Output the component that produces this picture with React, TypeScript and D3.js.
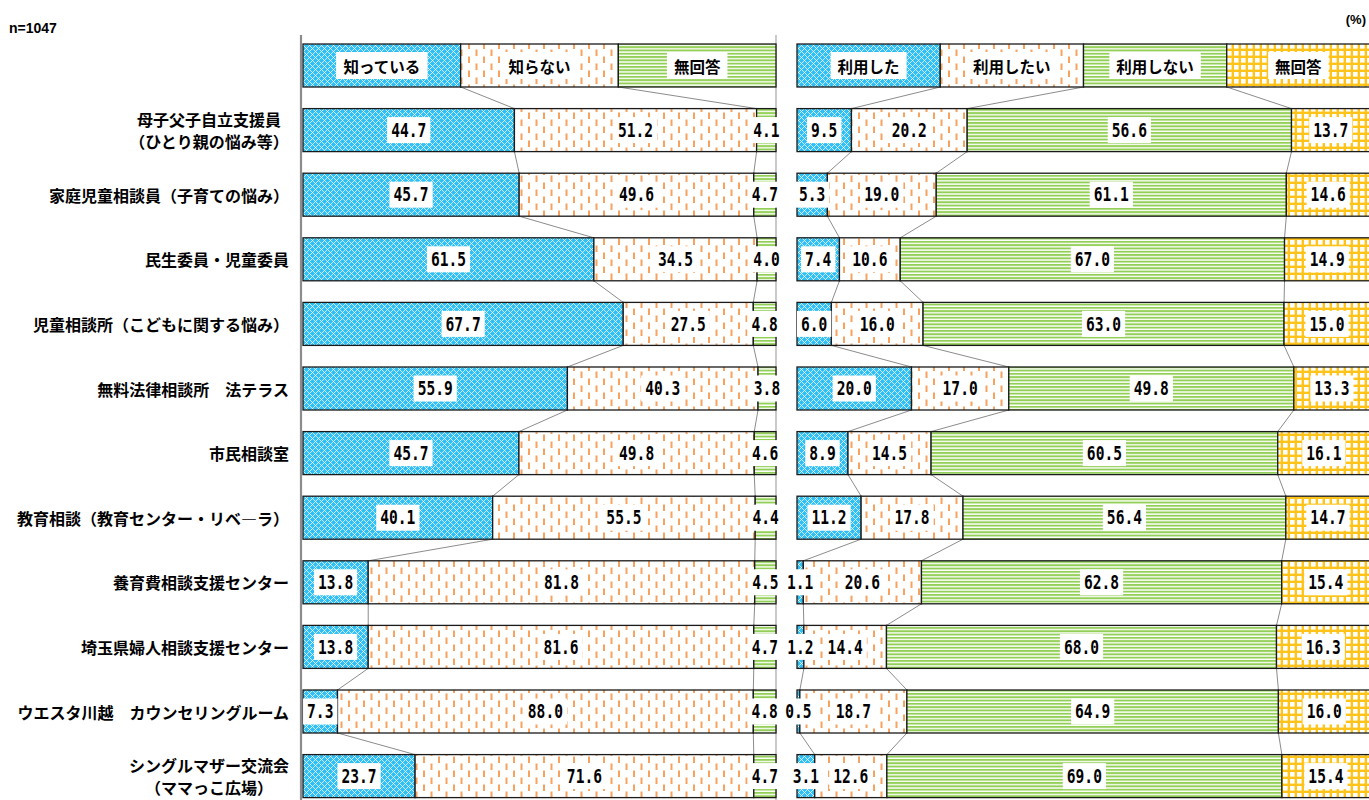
import React from 'react';
import * as d3 from 'd3';

const categories: string[][] = [
  ['母子父子自立支援員', '（ひとり親の悩み等）'],
  ['家庭児童相談員（子育ての悩み）'],
  ['民生委員・児童委員'],
  ['児童相談所（こどもに関する悩み）'],
  ['無料法律相談所　法テラス'],
  ['市民相談室'],
  ['教育相談（教育センター・リベ―ラ）'],
  ['養育費相談支援センター'],
  ['埼玉県婦人相談支援センター'],
  ['ウエスタ川越　カウンセリングルーム'],
  ['シングルマザー交流会', '（ママっこ広場）'],
];

const awarenessSeries = ['知っている', '知らない', '無回答'];
const knowValues = [44.7, 45.7, 61.5, 67.7, 55.9, 45.7, 40.1, 13.8, 13.8, 7.3, 23.7];
const dontKnowValues = [51.2, 49.6, 34.5, 27.5, 40.3, 49.8, 55.5, 81.8, 81.6, 88.0, 71.6];
const noAnswerAValues = [4.1, 4.7, 4.0, 4.8, 3.8, 4.6, 4.4, 4.5, 4.7, 4.8, 4.7];

const usageSeries = ['利用した', '利用したい', '利用しない', '無回答'];
const usedValues = [9.5, 5.3, 7.4, 6.0, 20.0, 8.9, 11.2, 1.1, 1.2, 0.5, 3.1];
const wantValues = [20.2, 19.0, 10.6, 16.0, 17.0, 14.5, 17.8, 20.6, 14.4, 18.7, 12.6];
const notUseValues = [56.6, 61.1, 67.0, 63.0, 49.8, 60.5, 56.4, 62.8, 68.0, 64.9, 69.0];
const noAnswerBValues = [13.7, 14.6, 14.9, 15.0, 13.3, 16.1, 14.7, 15.4, 16.3, 16.0, 15.4];

const sampleNote = 'n=1047';
const unitNote = '(%)';

const W = 1369;
const H = 800;
const JP = "'Noto Sans CJK JP', 'Noto Sans', sans-serif";
const NUM = "'DejaVu Sans Mono', 'Liberation Mono', monospace";
const fmt = d3.format('.1f');

type Panel = {
  series: string[];
  values: number[][];
  fills: string[];
  x: d3.ScaleLinear<number, number>;
  showEndLine: boolean;
};

const rowKeys = ['legend', ...categories.map((_, i) => `c${i}`)];
const y = d3
  .scaleBand<string>()
  .domain(rowKeys)
  .range([33.2, 808.4])
  .paddingInner(0.3344)
  .paddingOuter(0.1672);

function stackRows(values: number[][], nSeries: number) {
  const legend = d3.range(nSeries).map((k) => [(100 * k) / nSeries, (100 * (k + 1)) / nSeries]);
  const rows: number[][][] = [legend];
  for (let i = 0; i < categories.length; i++) {
    const vals = values.map((s) => s[i]);
    const total = d3.sum(vals);
    let acc = 0;
    const segs = vals.map((v) => {
      const s = (acc / total) * 100;
      acc += v;
      return [s, (acc / total) * 100];
    });
    rows.push(segs);
  }
  return rows;
}

function PanelView({ p }: { p: Panel }) {
  const rows = stackRows(p.values, p.series.length);
  const bw = y.bandwidth();
  const connectors: any[] = [];
  for (let r = 0; r < rows.length - 1; r++) {
    const y1 = (y(rowKeys[r]) as number) + bw;
    const y2 = y(rowKeys[r + 1]) as number;
    for (let k = 0; k < p.series.length - 1; k++) {
      connectors.push(
        <line
          key={`c${r}-${k}`}
          x1={p.x(rows[r][k][1])}
          y1={y1}
          x2={p.x(rows[r + 1][k][1])}
          y2={y2}
          stroke="#8c8c8c"
          strokeWidth={1}
        />
      );
    }
  }
  return (
    <g>
      {connectors}
      {p.showEndLine && (
        <line x1={p.x(100)} x2={p.x(100)} y1={35} y2={800} stroke="#a6a6a6" strokeWidth={1.2} />
      )}
      {rows.map((segs, r) => {
        const top = y(rowKeys[r]) as number;
        return (
          <g key={r}>
            {segs.map((s, k) => (
              <rect
                key={k}
                x={p.x(s[0])}
                y={top}
                width={Math.max(0, p.x(s[1]) - p.x(s[0]))}
                height={bw}
                fill={p.fills[k]}
                stroke="#1a1a1a"
                strokeWidth={1.3}
              />
            ))}
          </g>
        );
      })}
      {rows.map((segs, r) => {
        const cy = (y(rowKeys[r]) as number) + bw / 2;
        return (
          <g key={`l${r}`}>
            {segs.map((s, k) => {
              const cx = (p.x(s[0]) + p.x(s[1])) / 2;
              if (r === 0) {
                const label = p.series[k];
                const w = label.length * 15.5 + 14;
                return (
                  <g key={k}>
                    <rect x={cx - w / 2} y={cy - 13.5} width={w} height={27} fill="#fff" />
                    <text
                      x={cx}
                      y={cy}
                      textAnchor="middle"
                      dominantBaseline="central"
                      fontFamily={JP}
                      fontWeight="bold"
                      fontSize={15.5}
                      fill="#000"
                    >
                      {label}
                    </text>
                  </g>
                );
              }
              const label = fmt(p.values[k][r - 1]);
              const w = label.length * 8.8 + 8;
              return (
                <g key={k}>
                  <rect x={cx - w / 2} y={cy - 13} width={w} height={26} fill="#fff" />
                  <g transform={`translate(${cx},${cy}) scale(1,1.3)`}>
                    <text
                      x={0}
                      y={0}
                      textAnchor="middle"
                      dominantBaseline="central"
                      fontFamily={NUM}
                      fontWeight="bold"
                      fontSize={14.6}
                      fill="#000"
                    >
                      {label}
                    </text>
                  </g>
                </g>
              );
            })}
          </g>
        );
      })}
    </g>
  );
}

export default function App() {
  const left: Panel = {
    series: awarenessSeries,
    values: [knowValues, dontKnowValues, noAnswerAValues],
    fills: ['url(#pBlue)', 'url(#pOrange)', 'url(#pGreen)'],
    x: d3.scaleLinear().domain([0, 100]).range([303, 776]),
    showEndLine: true,
  };
  const right: Panel = {
    series: usageSeries,
    values: [usedValues, wantValues, notUseValues, noAnswerBValues],
    fills: ['url(#pBlue)', 'url(#pOrange)', 'url(#pGreen)', 'url(#pYellow)'],
    x: d3.scaleLinear().domain([0, 100]).range([797, 1370]),
    showEndLine: false,
  };
  const bw = y.bandwidth();
  const labelRight = 289;
  const charW = 16;

  return (
    <svg
      width={W}
      height={H}
      style={{ position: 'absolute', left: 0, top: 0, background: '#fff' }}
    >
      <defs>
        <pattern id="pBlue" width={6} height={6} patternUnits="userSpaceOnUse">
          <rect width={6} height={6} fill="#30c0f5" />
          <rect x={0} y={0} width={1} height={1} fill="#ffffff" />
          <rect x={1} y={1} width={1} height={1} fill="#c6eefd" />
          <rect x={2} y={2} width={1} height={1} fill="#c6eefd" />
          <rect x={4} y={4} width={1} height={1} fill="#c6eefd" />
          <rect x={5} y={5} width={1} height={1} fill="#c6eefd" />
          <rect x={5} y={1} width={1} height={1} fill="#c6eefd" />
          <rect x={4} y={2} width={1} height={1} fill="#c6eefd" />
          <rect x={2} y={4} width={1} height={1} fill="#c6eefd" />
          <rect x={1} y={5} width={1} height={1} fill="#c6eefd" />
          <rect x={3} y={3} width={1} height={1} fill="#ffffff" />
        </pattern>
        <pattern id="pOrange" width={15} height={14} patternUnits="userSpaceOnUse">
          <rect width={15} height={14} fill="#ffffff" />
          <rect x={3} y={0.5} width={2} height={6.5} fill="#f7a25e" />
          <rect x={10.5} y={7.5} width={2} height={6.5} fill="#f7a25e" />
        </pattern>
        <pattern id="pGreen" width={4} height={3.3} patternUnits="userSpaceOnUse">
          <rect width={4} height={3.3} fill="#ffffff" />
          <rect x={0} y={0} width={4} height={1.9} fill="#92cf56" />
        </pattern>
        <pattern id="pYellow" width={7} height={7} patternUnits="userSpaceOnUse">
          <rect width={7} height={7} fill="#ffc31a" />
          <rect x={2} y={2} width={4.6} height={4.6} fill="#ffffff" />
        </pattern>
      </defs>

      <text x={9} y={33} fontFamily="'Liberation Sans', Arial, sans-serif" fontWeight="bold" fontSize={14} fill="#000">
        {sampleNote}
      </text>
      <text x={1366} y={24} textAnchor="end" fontFamily="'Liberation Sans', Arial, sans-serif" fontWeight="bold" fontSize={13} fill="#000">
        {unitNote}
      </text>

      <line x1={301} x2={301} y1={35} y2={800} stroke="#8c8c8c" strokeWidth={2.2} />

      <PanelView p={left} />
      <PanelView p={right} />

      {categories.map((lines, i) => {
        const cy = (y(`c${i}`) as number) + bw / 2;
        if (lines.length === 1) {
          return (
            <text
              key={i}
              x={labelRight}
              y={cy}
              textAnchor="end"
              dominantBaseline="central"
              fontFamily={JP}
              fontWeight="bold"
              fontSize={16}
              fill="#000"
            >
              {lines[0]}
            </text>
          );
        }
        const maxLen = d3.max(lines, (l) => l.length) as number;
        const cx = labelRight - (maxLen * charW) / 2;
        return (
          <g key={i}>
            {lines.map((l, j) => (
              <text
                key={j}
                x={cx}
                y={cy + (j - (lines.length - 1) / 2) * 21.5}
                textAnchor="middle"
                dominantBaseline="central"
                fontFamily={JP}
                fontWeight="bold"
                fontSize={16}
                fill="#000"
              >
                {l}
              </text>
            ))}
          </g>
        );
      })}
    </svg>
  );
}
